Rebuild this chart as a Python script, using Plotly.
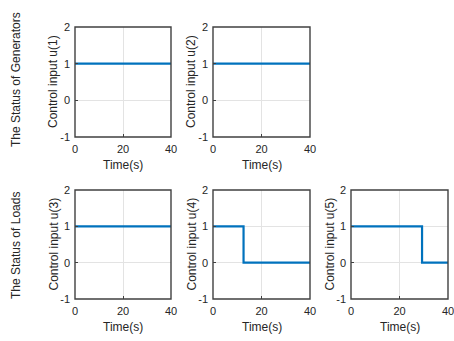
import plotly.graph_objects as go

# Control input time histories (step changes)
time_u1 = [0, 40]
u1 = [1, 1]
time_u2 = [0, 40]
u2 = [1, 1]
time_u3 = [0, 40]
u3 = [1, 1]
time_u4 = [0, 12.6, 40]
u4 = [1, 0, 0]
time_u5 = [0, 29.3, 40]
u5 = [1, 0, 0]

series = [
    ("Control input u(1)", time_u1, u1),
    ("Control input u(2)", time_u2, u2),
    ("Control input u(3)", time_u3, u3),
    ("Control input u(4)", time_u4, u4),
    ("Control input u(5)", time_u5, u5),
]
x_ticks = [0, 20, 40]
x_tick_text = ["0", "20", "40"]
y_ticks = [-1, 0, 1, 2]
y_tick_text = ["-1", "0", "1", "2"]
row_titles = ["The Status of Generators", "The Status of Loads"]

W, H = 454, 341
cols_px = [(75, 171), (213, 310), (351, 448)]
rows_px = [(27, 137), (190, 299)]
row_title_centers = [80, 246]
positions = [(0, 0), (0, 1), (1, 0), (1, 1), (1, 2)]

FONT = "Liberation Sans, Arial, sans-serif"
TXT = "#262626"
BOX = "#404040"


def label(text, px, py, angle=0):
    return dict(text=text, x=px / W, y=1 - py / H, xref="paper", yref="paper",
                xanchor="center", yanchor="middle", showarrow=False, textangle=angle,
                font=dict(family=FONT, size=12, color=TXT))


fig = go.Figure()
annotations = []
for i, ((title, t, u), (r, c)) in enumerate(zip(series, positions)):
    n = "" if i == 0 else str(i + 1)
    x0, x1 = cols_px[c]
    y0, y1 = rows_px[r]
    fig.add_trace(go.Scatter(
        x=t, y=u, mode="lines", line=dict(color="#0072BD", width=2.2, shape="hv"),
        xaxis="x" + n, yaxis="y" + n, showlegend=False, hoverinfo="skip"))
    common = dict(showline=False, ticks="inside", ticklen=3, tickcolor=BOX,
                  automargin=False, ticklabeloverflow="allow", ticklabelstandoff=4,
                  showgrid=True, gridcolor="#e3e3e3", gridwidth=1, zeroline=False,
                  tickfont=dict(family=FONT, size=11, color=TXT))
    fig.layout["xaxis" + n] = dict(common, domain=[x0 / W, x1 / W], range=[0, 40],
                                   tickvals=x_ticks, ticktext=x_tick_text, anchor="y" + n)
    fig.layout["yaxis" + n] = dict(common, domain=[1 - y1 / H, 1 - y0 / H], range=[-1, 2],
                                   tickvals=y_ticks, ticktext=y_tick_text, anchor="x" + n)
    # axes box around each panel
    fig.add_shape(type="rect", xref="x" + n + " domain", yref="y" + n + " domain",
                  x0=0, x1=1, y0=0, y1=1, layer="above",
                  line=dict(color=BOX, width=1.4))
    annotations.append(label("Time(s)", (x0 + x1) / 2, y1 + 28))
    annotations.append(label(title, x0 - 22, (y0 + y1) / 2, -90))

for yc, rt in zip(row_title_centers, row_titles):
    annotations.append(label(rt, 16, yc, -90))

fig.update_layout(width=W, height=H, margin=dict(l=0, r=0, t=0, b=0),
                  paper_bgcolor="white", plot_bgcolor="white", annotations=annotations)
fig.write_html("out.html")
